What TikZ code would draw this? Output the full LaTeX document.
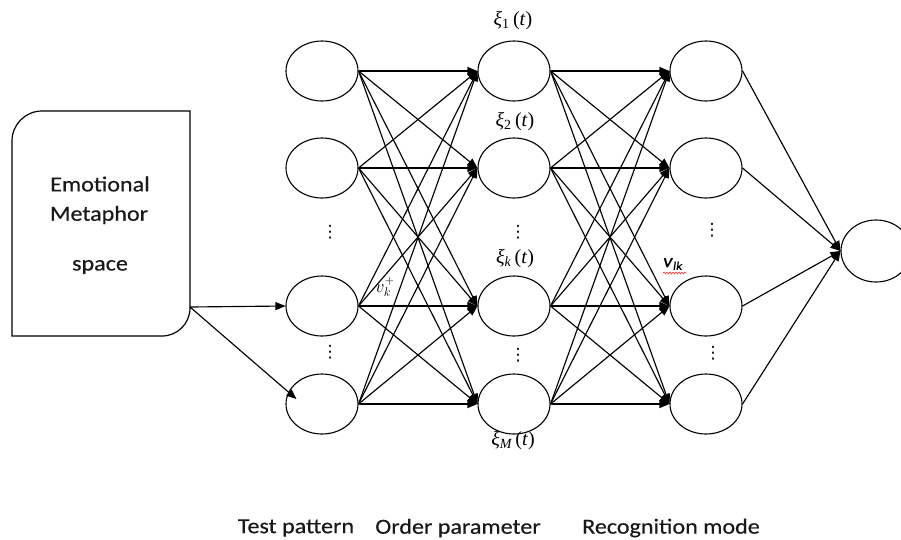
\RequirePackage{fix-cm}
\documentclass[tikz,border=0pt]{standalone}
\usepackage{fontspec}
\newfontfamily\lab[FakeStretch=1.12,FakeBold=0.4]{Carlito}
\newfontfamily\ser{Liberation Serif}
\newfontfamily\dv{DejaVu Sans}
\usetikzlibrary{shapes.geometric,arrows.meta,decorations.pathmorphing}
\newcommand{\xilabel}[1]{{\itshape ξ}\textsubscript{#1}\,(\textit{t})}
\begin{document}
\begin{tikzpicture}[x=1pt,y=-1pt,
  neuron/.style={draw,line width=1.1pt,ellipse,minimum width=72pt,minimum height=60pt,inner sep=0pt},
  arr/.style={line width=1.15pt,-{Triangle[length=10pt,width=8pt]}},
  labtext/.style={font=\lab\fontsize{21.5}{25}\selectfont,text=black!90,inner sep=0pt},
  xilab/.style={font=\ser\fontsize{20}{23}\selectfont,inner sep=0pt},
  dots/.style={font=\dv\fontsize{17}{20}\selectfont,inner sep=0pt}]
\useasboundingbox (0,0) rectangle (901,539);
\clip (0,0) rectangle (901,539);
% input box
\draw[line width=1.2pt] (12,336) -- (12,141) arc[start angle=180,end angle=270,radius=30]
  -- (190,111) -- (190,308) arc[start angle=0,end angle=90,radius=28] -- cycle;
\node[labtext] (t1) at (100,184) {Emotional};
\node[labtext] (t2) at (99,215) {Metaphor};
\node[labtext] (t3) at (100,267) {space};
\coordinate (src) at (190,307);
% neurons
\foreach \i/\y in {1/71,2/168,3/306,4/404}{
  \node[neuron] (a\i) at (322,\y) {};
  \node[neuron] (b\i) at (514,\y) {};
  \node[neuron] (c\i) at (706,\y) {};
}
\node[neuron,minimum width=70pt,minimum height=62pt] (out) at (876,251) {};
% connections
\draw[arr] (src) -- (a3.west);
\draw[arr] (src) -- ([xshift=11pt,yshift=5pt]a4.west);
\foreach \i in {1,...,4}{
  \foreach \j in {1,...,4}{
    \draw[arr] (a\i.east) -- (b\j.west);
    \draw[arr] (b\i.east) -- (c\j.west);
  }
  \draw[arr] (c\i.east) -- (out.west);
}
% labels
\node[xilab] (x1) at (513,21) {\xilabel{1}};
\node[xilab] (x2) at (515,122) {\xilabel{2}};
\node[xilab] (xk) at (515,259) {\xilabel{\itshape k}};
\node[xilab] (xm) at (513,441) {\xilabel{\itshape M}};
\node[font=\fontsize{18}{20}\selectfont,inner sep=0pt] (vk) at (385,287) {$v_k^{+}$};
\node[font=\lab\fontsize{19}{22}\selectfont,inner sep=0pt] (vlk) at (673,264) {\textit{v}\textsubscript{\fontsize{12}{13}\selectfont\textit{lk}}};
\draw[red!80,line width=0.6pt,decorate,decoration={snake,amplitude=1pt,segment length=3pt}] (663,273) -- (686,273);
\node[dots] (d1) at (330,232) {⋮};
\node[dots] (d2) at (330,352) {⋮};
\node[dots] (d3) at (518,232) {⋮};
\node[dots] (d4) at (518,355) {⋮};
\node[dots] (d5) at (712,230) {⋮};
\node[dots] (d6) at (713,353) {⋮};
% bottom labels
\node[labtext] (l1) at (296,528) {Test pattern};
\node[labtext] (l2) at (458,528) {Order parameter};
\node[labtext] (l3) at (671,528) {Recognition mode};
\end{tikzpicture}
\end{document}
